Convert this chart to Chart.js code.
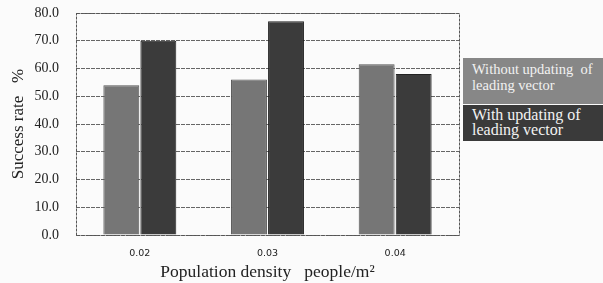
<!DOCTYPE html>
<html>
<head>
<meta charset="utf-8">
<script src="https://cdn.jsdelivr.net/npm/chart.js@4.4.0/dist/chart.umd.min.js"></script>
<style>
  html, body { margin: 0; padding: 0; background: #fbfbfb; }
  #wrap { position: relative; width: 603px; height: 283px; overflow: hidden; }
  canvas { display: block; }
  .legend-box {
    position: absolute;
    left: 463px;
    width: 140px;
    box-sizing: border-box;
    padding: 3px 0 0 9px;
    color: #f2f2f2;
    font-family: "Liberation Serif", "Times New Roman", "DejaVu Serif", serif;
    white-space: nowrap;
  }
</style>
</head>
<body>
<div id="wrap">
  <canvas id="chart" width="603" height="283"></canvas>
  <div class="legend-box" id="leg0" style="top:58px;height:46px;background:#878787;font-size:14.5px;line-height:16px;"></div>
  <div class="legend-box" id="leg1" style="top:105px;height:36px;background:#3a3a3a;font-size:16px;line-height:15px;padding-top:2px;"></div>
</div>
<script>
// data
const densities = ["0.02", "0.03", "0.04"];
const withoutUpdating = [54, 56, 61.5];
const withUpdating = [70, 77, 58];
const seriesNames = ["Without updating  of\nleading vector", "With updating of\nleading vector"];
const yTicks = [0, 10, 20, 30, 40, 50, 60, 70, 80];

const serif = "'Liberation Serif', 'Times New Roman', 'DejaVu Serif', serif";

// legend text as html, boxes sit to the right of the plot
document.querySelector("#leg0").innerHTML = seriesNames[0].replace("\n", "<br>").replace("  ", "&nbsp; ");
document.querySelector("#leg1").innerHTML = seriesNames[1].replace("\n", "<br>");

// dashed frame round the plot area
const frame = {
  id: "frame",
  afterDatasetsDraw(chart) {
    const { ctx, chartArea: a } = chart;
    ctx.save();
    ctx.strokeStyle = "#555";
    ctx.lineWidth = 1;
    ctx.setLineDash([3, 1]);
    ctx.strokeRect(a.left + 0.5, a.top + 0.5, a.right - a.left, a.bottom - a.top);
    ctx.restore();
  },
};

new Chart(document.querySelector("#chart"), {
  type: "bar",
  data: {
    labels: densities,
    datasets: [
      {
        label: seriesNames[0],
        data: withoutUpdating,
        backgroundColor: "#767676",
        borderColor: "#555",
        borderWidth: 1,
      },
      {
        label: seriesNames[1],
        data: withUpdating,
        backgroundColor: "#3b3b3b",
        borderColor: "#222",
        borderWidth: 1,
      },
    ],
  },
  plugins: [frame],
  options: {
    responsive: false,
    animation: false,
    layout: { padding: { top: 13, right: 144, left: 8, bottom: 0 } },
    plugins: {
      legend: { display: false },
      tooltip: { enabled: false },
    },
    datasets: {
      bar: { categoryPercentage: 0.58, barPercentage: 0.97 },
    },
    scales: {
      x: {
        grid: { display: false },
        border: { display: false },
        afterFit(scale) {
          scale.height = 48;
        },
        ticks: {
          color: "#222",
          font: { family: "'DejaVu Sans', sans-serif", size: 9.5 },
          padding: 5,
        },
        title: {
          display: true,
          text: "Population density   people/m²",
          color: "#222",
          font: { family: serif, size: 17.5 },
          padding: { top: 2, bottom: 0 },
        },
      },
      y: {
        min: 0,
        max: 80,
        afterBuildTicks(scale) {
          scale.ticks = yTicks.map((v) => ({ value: v }));
        },
        afterFit(scale) {
          // fixed width, and no extra room above/below for the tick labels
          scale.width = 68;
          scale.paddingTop = 0;
          scale.paddingBottom = 0;
        },
        grid: { color: "#666", lineWidth: 1, drawTicks: false },
        border: { display: false, dash: [4, 1] },
        ticks: {
          color: "#222",
          font: { family: serif, size: 14 },
          padding: 17,
          callback: (v) => Number(v).toFixed(1),
        },
        title: {
          display: true,
          text: "Success rate   %",
          color: "#222",
          font: { family: serif, size: 17 },
          padding: { top: 0, bottom: 4 },
        },
      },
    },
  },
});
</script>
</body>
</html>
